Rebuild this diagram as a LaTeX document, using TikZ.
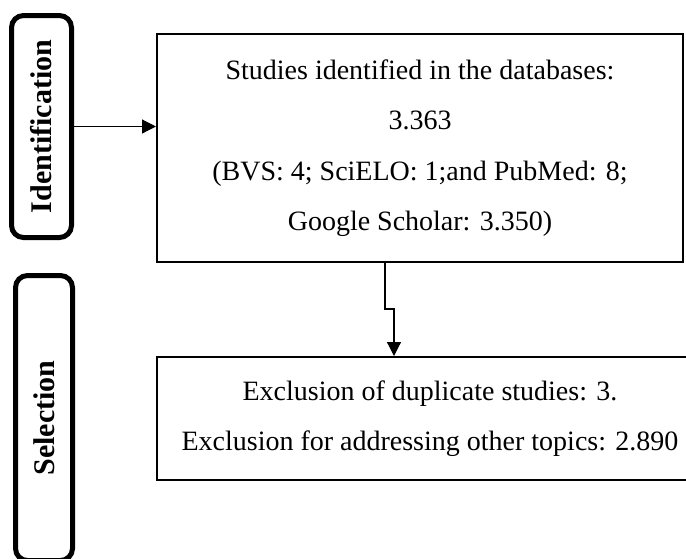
\documentclass[tikz,border=0pt]{standalone}
\usepackage{fontspec}
\setmainfont{Liberation Serif}
\usetikzlibrary{arrows.meta}
\begin{document}
\begin{tikzpicture}[x=1pt,y=-1pt,
  phase/.style={draw,line width=5pt,rounded corners=12pt,rotate=90,inner sep=0pt,
    font=\fontsize{30}{36}\selectfont\bfseries},
  box/.style={draw,line width=2pt,inner sep=0pt,align=center,
    font=\fontsize{28}{50.5}\selectfont},
  arr/.style={line width=1.2pt,-{Triangle[length=14pt,width=14pt]}}]
\useasboundingbox (0,0) rectangle (686,558);
\node[phase,minimum width=222pt,minimum height=60pt] (ident) at (41.5,126.5) {Identification};
\node[phase,minimum width=285pt,minimum height=57pt] (sel) at (44,418) {Selection};
\node[box,minimum width=526pt,minimum height=228pt] (top) at (420,148) {Studies identified in the databases:\\3.363\\(BVS: 4; SciELO: 1;and PubMed: 8;\\Google Scholar: 3.350)};
\node[box,minimum width=546pt,minimum height=123pt] (low) at (430,418.5) {Exclusion of duplicate studies: 3.\\Exclusion for addressing other topics: 2.890};
\coordinate (k1) at (385,309);
\coordinate (k2) at (394,309);
\draw[arr] (ident.south) -- (ident.south -| top.west);
\draw[arr] (top.south -| k1) -- (k1) -- (k2) -- (k2 |- low.north);
\end{tikzpicture}
\end{document}
